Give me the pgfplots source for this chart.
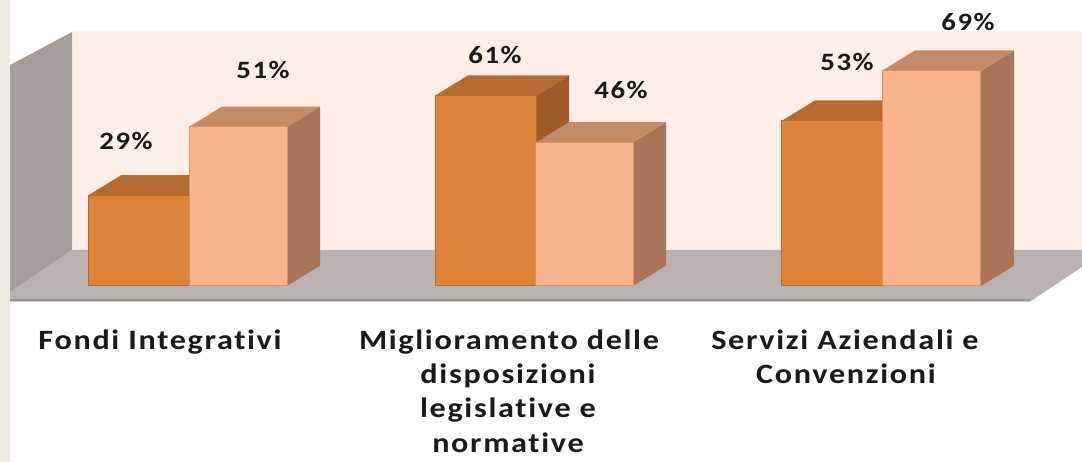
\documentclass[border=0pt]{standalone}
\usepackage{pgfplots}
\pgfplotsset{compat=1.18}
\usepackage{fontspec}
\setmainfont{Carlito}
\newfontfamily\lblfont[FakeStretch=1.15, LetterSpace=6, Ligatures=NoCommon]{Carlito}
\definecolor{beigestrip}{HTML}{EEECE2}
\definecolor{wallback}{HTML}{FDEFE7}
\definecolor{wallleft}{HTML}{A59D99}
\definecolor{floorc}{HTML}{BAB2B0}
\definecolor{floorline}{HTML}{9C9592}
\definecolor{darkfront}{HTML}{DC8437}
\definecolor{darkedge}{HTML}{B9692B}
\definecolor{darktop}{HTML}{B66A2E}
\definecolor{darkside}{HTML}{A25B28}
\definecolor{lightfront}{HTML}{F8B58D}
\definecolor{lightedge}{HTML}{D9925F}
\definecolor{lighttop}{HTML}{C58B69}
\definecolor{lightside}{HTML}{A97457}
\definecolor{txt}{HTML}{1A1A1A}
\begin{document}
\begin{tikzpicture}
\begin{axis}[
  width=541pt, height=231pt, scale only axis,
  xmin=0, xmax=1082, ymin=-56.41, ymax=91.67,
  hide axis, clip=true,
]
% background and 3D walls
\fill[white] (rel axis cs:0,0) rectangle (rel axis cs:1,1);
\fill[beigestrip] (axis cs:0,-56.41) rectangle (axis cs:10,91.67);
\fill[wallback] (axis cs:72,11.54) rectangle (axis cs:1082,81.73);
\fill[floorc] (axis cs:10,-1.92) -- (axis cs:72,11.54) -- (axis cs:1082,11.54) -- (axis cs:1082,6.09) -- (axis cs:1030,-5.0) -- (axis cs:10,-5.0) -- cycle;
\draw[floorline, line width=1.2pt] (axis cs:10,-4.5) -- (axis cs:1030,-4.5);
\fill[wallleft] (axis cs:10,70.83) -- (axis cs:72,81.41) -- (axis cs:72,11.54) -- (axis cs:10,-1.92) -- cycle;

% ---- series 1 (dark) : 29, 61, 53
\addplot[fill=darkside, draw=none] coordinates {(189,0) (189,29) (222,35.5) (222,6.5)} -- cycle;
\addplot[fill=darkside, draw=none] coordinates {(536,0) (536,61) (569,67.5) (569,6.5)} -- cycle;
\addplot[fill=darkside, draw=none] coordinates {(882,0) (882,53) (915,59.5) (915,6.5)} -- cycle;
\addplot[fill=darktop, draw=none] coordinates {(88,29) (121,35.5) (222,35.5) (189,29)} -- cycle;
\addplot[fill=darktop, draw=none] coordinates {(435,61) (468,67.5) (569,67.5) (536,61)} -- cycle;
\addplot[fill=darktop, draw=none] coordinates {(782,53) (815,59.5) (915,59.5) (882,53)} -- cycle;
\addplot[ybar, bar width=101, bar shift=0pt, fill=darkfront, draw=darkedge, line width=0.5pt]
  coordinates {(138.5,29) (485.5,61) (832,53)};

% ---- series 2 (light) : 51, 46, 69
\addplot[fill=lightside, draw=none] coordinates {(287,0) (287,51) (320,57.5) (320,6.5)} -- cycle;
\addplot[fill=lightside, draw=none] coordinates {(633,0) (633,46) (666,52.5) (666,6.5)} -- cycle;
\addplot[fill=lightside, draw=none] coordinates {(981,0) (981,69) (1014,75.5) (1014,6.5)} -- cycle;
\addplot[fill=lighttop, draw=none] coordinates {(189,51) (222,57.5) (320,57.5) (287,51)} -- cycle;
\addplot[fill=lighttop, draw=none] coordinates {(536,46) (569,52.5) (666,52.5) (633,46)} -- cycle;
\addplot[fill=lighttop, draw=none] coordinates {(882,69) (915,75.5) (1014,75.5) (981,69)} -- cycle;
\addplot[ybar, bar width=98, bar shift=0pt, fill=lightfront, draw=lightedge, line width=0.5pt]
  coordinates {(238,51) (584.5,46) (931.5,69)};

% value labels
\tikzset{pct/.style={text=txt, inner sep=0pt, font={\lblfont\bfseries\fontsize{12.5pt}{15pt}\selectfont}}}
\node[pct] at (axis cs:126,46.5) {29\%};
\node[pct] at (axis cs:263,69.1) {51\%};
\node[pct] at (axis cs:495,74.0) {61\%};
\node[pct] at (axis cs:621,62.8) {46\%};
\node[pct] at (axis cs:847,71.8) {53\%};
\node[pct] at (axis cs:968,84.5) {69\%};

% category labels
\tikzset{cat/.style={text=txt, inner sep=0pt, anchor=base, font={\lblfont\bfseries\fontsize{14pt}{17pt}\selectfont}}}
\node[cat] at (axis cs:160,-20.51) {Fondi Integrativi};
\node[cat] at (axis cs:509,-20.51) {Miglioramento delle};
\node[cat] at (axis cs:508,-31.41) {disposizioni};
\node[cat] at (axis cs:508,-42.31) {legislative e};
\node[cat] at (axis cs:508,-53.21) {normative};
\node[cat] at (axis cs:845,-20.51) {Servizi Aziendali e};
\node[cat] at (axis cs:846,-31.41) {Convenzioni};
\end{axis}
\end{tikzpicture}
\end{document}
